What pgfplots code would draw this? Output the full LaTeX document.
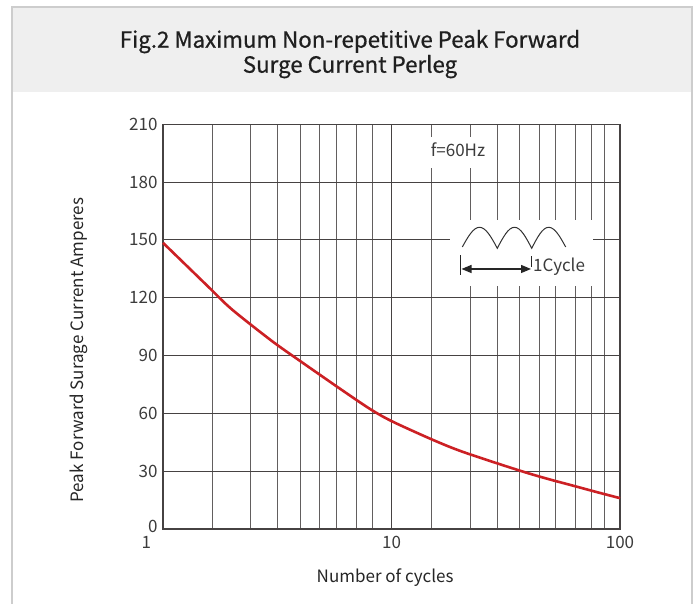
\documentclass[border=0pt]{standalone}
\usepackage{fontspec}
\setmainfont{Noto Sans CJK SC}
\newfontfamily\titlefont{Noto Sans CJK SC}[FakeBold=0.7]
\usepackage{pgfplots}
\pgfplotsset{compat=1.18}
\usetikzlibrary{arrows.meta}
\definecolor{curvered}{RGB}{204,32,36}
\definecolor{gridc}{RGB}{70,66,66}
\definecolor{txt}{RGB}{60,60,60}
\definecolor{hdr}{RGB}{239,239,239}
\definecolor{frm}{RGB}{205,205,205}
\begin{document}
\begin{tikzpicture}[x=1bp,y=1bp]
\fill[white] (0,0) rectangle (695,604);
% header and frame
\fill[hdr] (12,512.3) rectangle (692,597);
\draw[frm,line width=1.5bp] (12,0) -- (12,597) -- (692,597) -- (692,0);
\node[anchor=base,text=black!88,font=\titlefont\fontsize{22.3bp}{26bp}\selectfont] at (350,556.3) {Fig.2 Maximum Non-repetitive Peak Forward};
\node[anchor=base,text=black!88,font=\titlefont\fontsize{22.3bp}{26bp}\selectfont] at (350,531.3) {Surge Current Perleg};
\begin{axis}[
  at={(163bp,75bp)}, anchor=south west,
  scale only axis, width=457bp, height=404.7bp,
  xmode=log, xmin=1, xmax=100, ymin=0, ymax=210,
  xtick={1,10,100},
  xticklabels={\makebox[0pt][r]{1\hspace{12bp}},10,100},
  minor xtick={1.640,2.404,3.162,3.990,4.819,5.728,6.998,8.222,14.89,22.13,28.97,36.39,44.39,52.18,63.83,75.03,85.77},
  ytick={0,30,60,90,120,150,180,210},
  yticklabels={\raisebox{6bp}{0},30,60,90,120,150,180,210},
  log ticks with fixed point,
  grid=both,
  major grid style={gridc,line width=1bp},
  minor grid style={gridc!85,line width=1bp},
  axis line style={gridc,line width=1.1bp},
  major tick length=0pt, minor tick length=0pt,
  tick label style={text=txt,font=\fontsize{17bp}{20bp}\selectfont},
  xticklabel style={yshift=-4bp},
  yticklabel style={xshift=-2bp},
  /pgf/number format/assume math mode=true,
  xlabel={Number of cycles},
  ylabel={Peak Forward Surage Current Amperes},
  label style={text=black!85,font=\fontsize{17bp}{20bp}\selectfont},
  xlabel style={at={(axis description cs:0.486,-0.121)},anchor=center},
  ylabel style={at={(axis description cs:-0.184,0.442)},anchor=center,rotate=0},
  clip=false,
]
\addplot[curvered,line width=2.6bp,smooth] coordinates {
(1.0,148.5) (1.259,137) (1.585,125.5) (2,114) (3,97.5) (4,87) (5,79)
(6,72.5) (8,62.5) (10,56) (15,46.5) (20,40.5) (30,33.5) (40,28.8)
(50,25.5) (60,23) (80,19) (100,16)
};
\end{axis}
% annotation: f=60Hz
\fill[white] (418,436) rectangle (490,467);
\node[text=txt,font=\fontsize{17bp}{20bp}\selectfont] at (458,454) {f=60Hz};
% annotation: waveform
\fill[white] (450,318) rectangle (593,384);
\draw[black!80,line width=1bp] (462.3,357) sin (479.5,376.7) cos (497.3,355.7) sin (514.5,376.7) cos (531.7,355.7) sin (548.7,376.7) cos (565.7,357);
\draw[black!85,line width=1bp] (460.7,329) -- (460.7,349);
\draw[black!85,line width=1bp] (531.7,337) -- (531.7,348);
\draw[black!85,line width=1.2bp,{Triangle[length=10bp,width=8bp]}-{Triangle[length=10bp,width=8bp]}] (461.5,335) -- (531,335);
\node[anchor=west,inner sep=0pt,text=txt,font=\fontsize{17bp}{20bp}\selectfont] at (533,337.3) {1Cycle};
\pgfresetboundingbox
\useasboundingbox (0,0) rectangle (695,604);
\end{tikzpicture}
\end{document}
